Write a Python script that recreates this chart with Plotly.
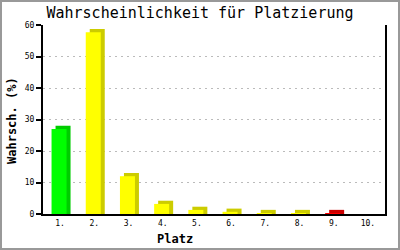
import plotly.graph_objects as go

categories = ["1.", "2.", "3.", "4.", "5.", "6.", "7.", "8.", "9.", "10."]
values = [27, 57.7, 12, 3.2, 1.3, 0.7, 0.3, 0.3, 0.3, 0]
front_colors = ["#00ff00", "#ffff00", "#ffff00", "#ffff00", "#ffff00",
                "#ffff00", "#ffff00", "#ffff00", "#ff0000", "#ffff00"]
side_colors = ["#00cc00", "#cccc00", "#cccc00", "#cccc00", "#cccc00",
               "#cccc00", "#cccc00", "#cccc00", "#cc0000", "#cccc00"]
y_ticks = [0, 10, 20, 30, 40, 50, 60]

W, H = 400, 250
ML, MR, MT, MB = 43, 15, 25, 36
plot_w = W - ML - MR
plot_h = H - MT - MB
ymax = 60
band = plot_w / len(categories)
depth_px = 4
bar_px = 15
dx = depth_px / band
dy = 3.2 * ymax / plot_h
bw = bar_px / band
off_front = -0.25

back_vals = [v + dy if v > 0 else 0 for v in values]

fig = go.Figure()
fig.add_trace(go.Bar(x=categories, y=back_vals, width=bw, offset=off_front + dx,
                     marker=dict(color=side_colors, line=dict(width=0)),
                     hoverinfo="skip", showlegend=False))
fig.add_trace(go.Bar(x=categories, y=values, width=bw, offset=off_front,
                     marker=dict(color=front_colors, line=dict(width=0)),
                     showlegend=False))

fig.update_layout(
    width=W, height=H,
    margin=dict(l=ML, r=MR, t=MT, b=MB),
    paper_bgcolor="white", plot_bgcolor="white",
    barmode="overlay",
    title=dict(text="Wahrscheinlichkeit für Platzierung", x=0.5, xanchor="center",
               y=1 - 13 / H, yanchor="middle",
               font=dict(family="DejaVu Sans Mono", size=15, color="black")),
    xaxis=dict(type="category", showline=True, linecolor="black", linewidth=2,
               ticks="", showgrid=False, zeroline=False,
               tickfont=dict(family="DejaVu Sans Mono", size=8, color="black")),
    yaxis=dict(range=[0, ymax], tickvals=y_ticks, showline=True, mirror=True,
               linecolor="black", linewidth=2, ticks="outside", ticklen=5,
               tickcolor="black", tickwidth=2, showgrid=True, gridcolor="#bbbbbb",
               griddash="2px,4px", gridwidth=1, zeroline=False,
               tickfont=dict(family="DejaVu Sans Mono", size=8, color="black")),
    annotations=[
        dict(text="<b>Platz</b>", xref="paper", yref="paper",
             x=(175 - ML) / plot_w, y=-(239 - MT - plot_h) / plot_h,
             xanchor="center", yanchor="middle", showarrow=False,
             font=dict(family="DejaVu Sans Mono", size=12, color="black")),
        dict(text="<b>Wahrsch. (%)</b>", xref="paper", yref="paper",
             x=-(ML - 12) / plot_w, y=(MT + plot_h - 121) / plot_h,
             xanchor="center", yanchor="middle", textangle=-90, showarrow=False,
             font=dict(family="DejaVu Sans Mono", size=12, color="black")),
    ],
    shapes=[
        dict(type="rect", xref="paper", yref="paper",
             x0=-(ML - 1) / plot_w, x1=1 + (MR - 1) / plot_w,
             y0=-(MB - 1) / plot_h, y1=1 + (MT - 1) / plot_h,
             line=dict(color="#999999", width=2), fillcolor="rgba(0,0,0,0)"),
    ],
)

fig.write_html("out.html")
